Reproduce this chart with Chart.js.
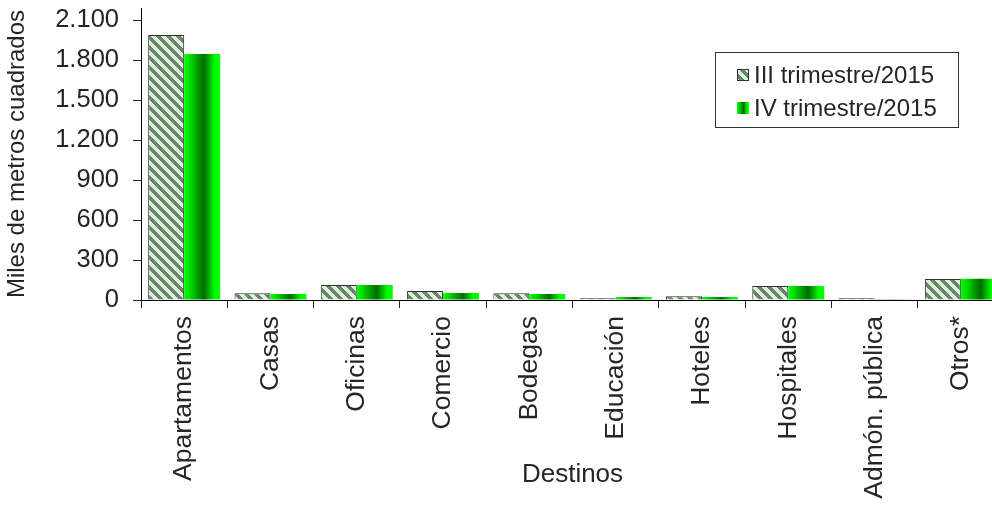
<!DOCTYPE html>
<html>
<head>
<meta charset="utf-8">
<script src="https://cdn.jsdelivr.net/npm/chart.js@4.4.0/dist/chart.umd.min.js"></script>
<style>
  html, body { margin: 0; padding: 0; background: #fff; overflow: hidden; }
  canvas { display: block; }
</style>
</head>
<body>
<canvas id="myChart" width="1004" height="506"></canvas>
<script>
var destinos = ['Apartamentos', 'Casas', 'Oficinas', 'Comercio', 'Bodegas', 'Educación', 'Hoteles', 'Hospitales', 'Admón. pública', 'Otros*'];
var trimestre3 = [1988, 50, 112, 68, 50, 13, 28, 105, 13, 158];
var trimestre4 = [1845, 45, 112, 52, 45, 22, 22, 105, 5, 160];
var serieNombres = ['III trimestre/2015', 'IV trimestre/2015'];
var yTicks = [0, 300, 600, 900, 1200, 1500, 1800, 2100];

var txt = '#262626';
var fuente = 'Arial, "Liberation Sans", sans-serif';
var catPct = 0.834;

// striped fill for the III series
function rayas() {
  var n = 10;
  var c = document.createElement('canvas');
  c.width = n; c.height = n;
  var g = c.getContext('2d');
  g.fillStyle = '#ccffcc';
  g.fillRect(0, 0, n, n);
  g.fillStyle = '#7a7a7a';
  for (var y = 0; y < n; y++) {
    for (var x = 0; x < n; x++) {
      if (((x - y) % n + n) % n < 5) g.fillRect(x, y, 1, 1);
    }
  }
  return g.createPattern(c, 'repeat');
}

function degradado(g, x0, x1) {
  var gr = g.createLinearGradient(x0, 0, x1, 0);
  gr.addColorStop(0, '#00ff00');
  gr.addColorStop(0.15, '#00e000');
  gr.addColorStop(0.55, '#006a00');
  gr.addColorStop(0.85, '#00ff00');
  gr.addColorStop(1, '#00ff00');
  return gr;
}

var ctx = document.getElementById('myChart');
var patron = rayas();

var leyenda = {
  id: 'leyenda',
  afterDraw: function (chart) {
    var g = chart.ctx;
    g.save();
    g.strokeStyle = '#333';
    g.lineWidth = 1;
    g.strokeRect(715.5, 52.5, 243, 75);
    g.font = '24px ' + fuente;
    g.textBaseline = 'middle';
    g.textAlign = 'left';
    // III
    g.fillStyle = patron;
    g.fillRect(737, 69, 12, 12);
    g.strokeStyle = '#333';
    g.strokeRect(737.5, 69.5, 11, 11);
    // IV
    g.fillStyle = degradado(g, 737, 749);
    g.fillRect(737, 102, 12, 12);
    g.fillStyle = txt;
    g.fillText(serieNombres[0], 754, 76);
    g.fillText(serieNombres[1], 754, 109);
    g.restore();
  }
};

var myChart = new Chart(ctx, {
  type: 'bar',
  data: {
    labels: destinos,
    datasets: [
      {
        label: serieNombres[0],
        data: trimestre3,
        backgroundColor: patron,
        borderColor: '#333',
        borderWidth: 1,
        borderSkipped: 'bottom'
      },
      {
        label: serieNombres[1],
        data: trimestre4,
        backgroundColor: function (c) {
          var chart = c.chart;
          var xs = chart.scales && chart.scales.x;
          if (c.type !== 'data' || !xs || !xs.width) return '#00ff00';
          var cw = xs.width / destinos.length;
          var centro = xs.getPixelForValue(c.dataIndex);
          var w = cw * catPct / 2;
          return degradado(chart.ctx, centro, centro + w);
        },
        borderWidth: 0
      }
    ]
  },
  options: {
    responsive: false,
    animation: false,
    devicePixelRatio: 1,
    layout: { padding: { top: 8, right: 0, left: 0, bottom: 0 } },
    datasets: { bar: { categoryPercentage: catPct, barPercentage: 1 } },
    plugins: { legend: { display: false }, tooltip: { enabled: false } },
    scales: {
      x: {
        grid: { display: true, drawOnChartArea: false, drawTicks: true, tickLength: 8, color: '#222', offset: true },
        border: { display: true, color: '#000', width: 1 },
        ticks: {
          color: txt, font: { family: fuente, size: 26.5 },
          minRotation: 90, maxRotation: 90, padding: 8, autoSkip: false
        },
        title: { display: true, text: 'Destinos', color: txt, font: { family: fuente, size: 26 }, padding: { top: 0, bottom: 16 } },
        afterFit: function (s) { s.height = 206; s.paddingLeft = 0; s.paddingRight = 0; }
      },
      y: {
        min: 0,
        max: 2190,
        grid: { display: true, drawOnChartArea: false, drawTicks: true, tickLength: 8, color: '#222' },
        border: { display: true, color: '#000', width: 1 },
        afterBuildTicks: function (s) {
          s.ticks = yTicks.map(function (v) { return { value: v }; });
        },
        ticks: {
          color: txt, font: { family: fuente, size: 25.5 }, padding: 14,
          callback: function (v) { return String(v).replace(/\B(?=(\d{3})+(?!\d))/g, '.'); }
        },
        title: { display: true, text: 'Miles de metros cuadrados', color: txt, font: { family: fuente, size: 24 }, padding: { top: 3, bottom: 0 } },
        afterFit: function (s) { s.width = 141; s.paddingTop = 0; s.paddingBottom = 0; }
      }
    }
  },
  plugins: [leyenda]
});
</script>
</body>
</html>
